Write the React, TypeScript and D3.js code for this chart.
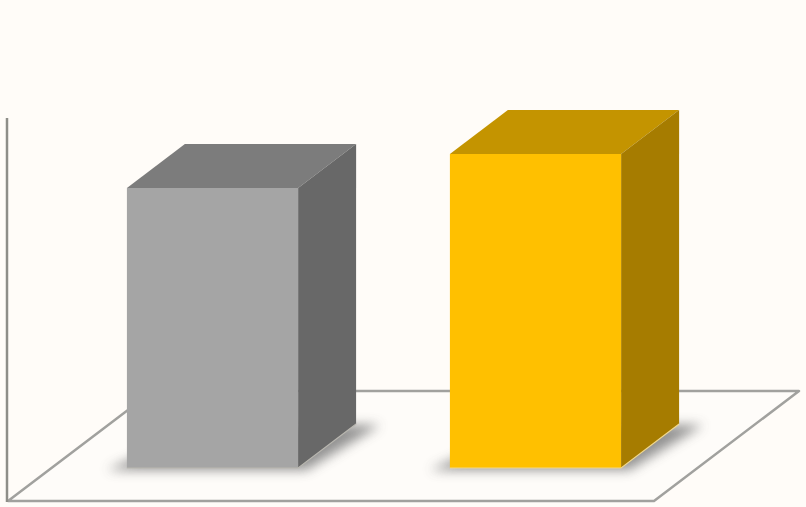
import * as d3 from 'd3'

const categories = ['A', 'B']
const values = [280, 314]
const frontColors = ['#a5a5a5', '#ffc000']
const topColors = ['#7c7c7c', '#c49400']
const sideColors = ['#686868', '#a67c00']
const edgeColors = ['#b9b7b0', '#f0d890']

const width = 806
const height = 507

// oblique projection: going "back" one unit of floor depth moves up and right
const floorFront = 501
const floorBack = 391
const floorLeft = 8
const floorRight = 654
const skew = 145 / 110
const barBase = 468
const barDepth = 44

const x = d3.scaleBand<string>()
  .domain(categories)
  .range([floorLeft + (floorFront - barBase) * skew - 0.5, floorRight + (floorFront - barBase) * skew - 0.5])
  .paddingInner(0.47)
  .paddingOuter(0.235)

const y = d3.scaleLinear().domain([0, 350]).range([barBase, 118])

const line = d3.line<[number, number]>()
const poly = (pts: [number, number][]) => line(pts) + 'Z'

const dx = barDepth * skew
const floorDx = (floorFront - floorBack) * skew

export default function App() {
  const bw = x.bandwidth()
  return (
    <svg width={width} height={height} style={{ display: 'block', position: 'absolute', left: 0, top: 0 }}>
      <defs>
        <filter id="shadowBlur" x="-20%" y="-40%" width="140%" height="180%">
          <feGaussianBlur stdDeviation="6" />
        </filter>
      </defs>
      <rect width={width} height={height} fill="#fffcf8" />
      <path
        d={poly([
          [floorLeft, floorFront],
          [floorRight, floorFront],
          [floorRight + floorDx, floorBack],
          [floorLeft + floorDx, floorBack],
        ])}
        fill="#fefcf9"
        stroke="#a1a19e"
        strokeWidth={2.5}
        strokeLinejoin="round"
      />
      <line x1={7} x2={7} y1={y(350)} y2={floorFront + 1} stroke="#8e8e88" strokeWidth={2.5} />
      {categories.map((c, i) => {
        const x0 = x(c)!
        const top = y(values[i])
        return (
          <g key={c}>
            <path
              d={poly([
                [x0 - 20, barBase + 2],
                [x0 + bw + 8, barBase + 2],
                [x0 + bw + dx + 24, barBase - barDepth + 1],
                [x0 + dx + 24, barBase - barDepth + 1],
              ])}
              fill="#808080"
              opacity={0.85}
              filter="url(#shadowBlur)"
            />
            <path
              d={poly([
                [x0, top],
                [x0 + bw, top],
                [x0 + bw + dx, top - barDepth],
                [x0 + dx, top - barDepth],
              ])}
              fill={topColors[i]}
            />
            <path
              d={poly([
                [x0 + bw, top],
                [x0 + bw + dx, top - barDepth],
                [x0 + bw + dx, barBase - barDepth],
                [x0 + bw, barBase],
              ])}
              fill={sideColors[i]}
            />
            <rect x={x0} y={top} width={bw} height={barBase - top} fill={frontColors[i]} />
            <path
              d={line([
                [x0, barBase],
                [x0 + bw, barBase],
                [x0 + bw + dx, barBase - barDepth],
              ])!}
              fill="none"
              stroke={edgeColors[i]}
              strokeWidth={1.2}
            />
          </g>
        )
      })}
    </svg>
  )
}
